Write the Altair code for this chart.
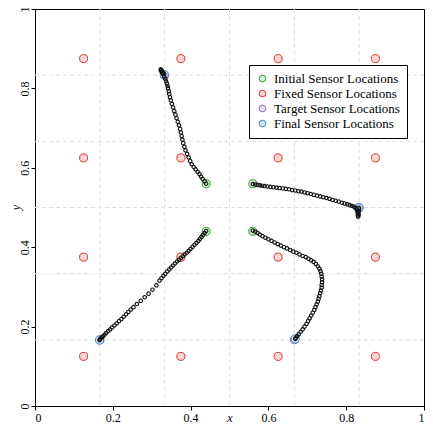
import altair as alt
import pandas as pd

# ---------------- data ----------------
grid_vals = [1/6, 2/6, 3/6, 4/6, 5/6]
tick_vals = [0, 0.2, 0.4, 0.6, 0.8, 1]

fixed_coords = [0.125, 0.375, 0.625, 0.875]

initial_x = [0.44, 0.56, 0.56, 0.44]
initial_y = [0.56, 0.56, 0.44, 0.44]

target_x = [0.333, 0.833, 0.667, 0.167]
target_y = [0.833, 0.500, 0.167, 0.167]

final_x = [0.332, 0.833, 0.669, 0.166]
final_y = [0.835, 0.499, 0.169, 0.166]

kinds = ["Initial Sensor Locations", "Fixed Sensor Locations",
         "Target Sensor Locations", "Final Sensor Locations"]
stroke_colors = ["#2ca02c", "#e0312b", "#8c6bc0", "#3f86d0"]
fill_colors = ["#d9efd9", "#f9d7d5", "#e6ddf3", "#d6e6f7"]

# trajectory 1: (0.44,0.56) -> (0.333,0.833)
traj1_x = [0.440, 0.436, 0.431, 0.427, 0.423, 0.418, 0.413, 0.408, 0.403, 0.399,
           0.395, 0.391, 0.387, 0.384, 0.381, 0.379, 0.377, 0.375, 0.373, 0.370,
           0.367, 0.364, 0.361, 0.358, 0.355, 0.352, 0.349, 0.347, 0.345, 0.344,
           0.342, 0.341, 0.339, 0.337, 0.335, 0.332, 0.329, 0.326, 0.324, 0.323,
           0.325, 0.327, 0.330, 0.332]
traj1_y = [0.560, 0.566, 0.572, 0.578, 0.584, 0.590, 0.596, 0.602, 0.609, 0.617,
           0.626, 0.635, 0.644, 0.653, 0.662, 0.671, 0.680, 0.689, 0.698, 0.707,
           0.716, 0.725, 0.734, 0.743, 0.752, 0.761, 0.770, 0.778, 0.786, 0.793,
           0.800, 0.806, 0.812, 0.818, 0.824, 0.830, 0.836, 0.841, 0.845, 0.848,
           0.846, 0.843, 0.839, 0.836]

# trajectory 2: (0.56,0.56) -> (0.833,0.5)
traj2_x = [0.560, 0.566, 0.572, 0.578, 0.584, 0.590, 0.597, 0.605, 0.613, 0.621,
           0.629, 0.637, 0.645, 0.653, 0.661, 0.669, 0.677, 0.685, 0.693, 0.701,
           0.709, 0.717, 0.725, 0.733, 0.741, 0.749, 0.757, 0.765, 0.773, 0.781,
           0.789, 0.796, 0.803, 0.809, 0.815, 0.820, 0.824, 0.827, 0.829, 0.830,
           0.830, 0.831, 0.832, 0.832, 0.833, 0.833]
traj2_y = [0.559, 0.558, 0.557, 0.556, 0.555, 0.554, 0.553, 0.552, 0.551, 0.550,
           0.549, 0.548, 0.547, 0.546, 0.544, 0.543, 0.541, 0.540, 0.538, 0.536,
           0.534, 0.532, 0.530, 0.528, 0.526, 0.524, 0.522, 0.519, 0.517, 0.515,
           0.512, 0.510, 0.508, 0.506, 0.504, 0.502, 0.499, 0.495, 0.490, 0.485,
           0.480, 0.477, 0.482, 0.489, 0.495, 0.499]

# trajectory 3: (0.56,0.44) -> (0.667,0.167)
traj3_x = [0.560, 0.566, 0.572, 0.578, 0.585, 0.592, 0.600, 0.608, 0.616, 0.624,
           0.632, 0.640, 0.648, 0.656, 0.664, 0.672, 0.680, 0.688, 0.696, 0.703,
           0.710, 0.716, 0.722, 0.727, 0.731, 0.734, 0.736, 0.737, 0.738, 0.738,
           0.737, 0.737, 0.735, 0.733, 0.731, 0.729, 0.727, 0.724, 0.721, 0.718,
           0.714, 0.710, 0.706, 0.702, 0.698, 0.693, 0.688, 0.683, 0.678, 0.674,
           0.671, 0.669]
traj3_y = [0.442, 0.439, 0.436, 0.432, 0.428, 0.424, 0.420, 0.416, 0.412, 0.408,
           0.404, 0.400, 0.397, 0.393, 0.389, 0.386, 0.382, 0.378, 0.375, 0.371,
           0.367, 0.363, 0.358, 0.352, 0.346, 0.340, 0.333, 0.326, 0.319, 0.312,
           0.305, 0.298, 0.291, 0.284, 0.277, 0.270, 0.263, 0.256, 0.249, 0.242,
           0.235, 0.228, 0.221, 0.214, 0.207, 0.200, 0.193, 0.187, 0.181, 0.176,
           0.172, 0.169]

# trajectory 4: (0.44,0.44) -> (0.167,0.167)
traj4_x = [0.440, 0.436, 0.432, 0.428, 0.424, 0.420, 0.415, 0.410, 0.405, 0.400,
           0.395, 0.390, 0.385, 0.380, 0.375, 0.370, 0.365, 0.360, 0.355, 0.350,
           0.345, 0.340, 0.335, 0.330, 0.325, 0.320, 0.312, 0.302, 0.292, 0.282,
           0.272, 0.262, 0.253, 0.246, 0.240, 0.234, 0.228, 0.222, 0.216, 0.210,
           0.204, 0.198, 0.193, 0.188, 0.183, 0.179, 0.175, 0.172, 0.169, 0.167,
           0.166]
traj4_y = [0.441, 0.436, 0.431, 0.426, 0.421, 0.416, 0.411, 0.406, 0.401, 0.396,
           0.391, 0.386, 0.382, 0.377, 0.373, 0.368, 0.364, 0.359, 0.354, 0.349,
           0.344, 0.339, 0.333, 0.328, 0.322, 0.316, 0.304, 0.293, 0.283, 0.274,
           0.265, 0.257, 0.249, 0.243, 0.237, 0.231, 0.225, 0.219, 0.214, 0.208,
           0.203, 0.198, 0.193, 0.189, 0.184, 0.180, 0.176, 0.173, 0.170, 0.168,
           0.166]

# ---------------- tables ----------------
rows = []
for yy in fixed_coords:
    for xx in fixed_coords:
        rows.append({"x": xx, "y": yy, "kind": kinds[1], "o": 0})
for xx, yy in zip(initial_x, initial_y):
    rows.append({"x": xx, "y": yy, "kind": kinds[0], "o": 1})
for xx, yy in zip(target_x, target_y):
    rows.append({"x": xx, "y": yy, "kind": kinds[2], "o": 2})
for xx, yy in zip(final_x, final_y):
    rows.append({"x": xx, "y": yy, "kind": kinds[3], "o": 3})
markers = pd.DataFrame(rows)

traj_rows = []
for tid, (tx, ty) in enumerate([(traj1_x, traj1_y), (traj2_x, traj2_y),
                                (traj3_x, traj3_y), (traj4_x, traj4_y)]):
    for xx, yy in zip(tx, ty):
        traj_rows.append({"x": xx, "y": yy, "t": tid})
traj = pd.DataFrame(traj_rows)

vgrid_df = pd.DataFrame({"x": grid_vals})
hgrid_df = pd.DataFrame({"y": grid_vals})

FONT = "Liberation Serif, Times New Roman, serif"

xscale = alt.Scale(domain=[0, 1], nice=False, zero=False)
yscale = alt.Scale(domain=[0, 1], nice=False, zero=False)

xaxis = alt.Axis(values=tick_vals, title="x", format="~g", labelAngle=0,
                 titleY=15, titleBaseline="alphabetic")
yaxis = alt.Axis(values=tick_vals, title="y", format="~g", labelAngle=270,
                 labelAlign="center", labelBaseline="bottom", labelPadding=0,
                 titleX=-20, titleY=198, titleAngle=270, titleBaseline="middle",
                 titleAlign="center")

vgrid = alt.Chart(vgrid_df).mark_rule(color="#e0e0e0", strokeWidth=1, strokeDash=[4, 3]).encode(
    x=alt.X("x:Q", scale=xscale, axis=xaxis))
hgrid = alt.Chart(hgrid_df).mark_rule(color="#e0e0e0", strokeWidth=1, strokeDash=[4, 3]).encode(
    y=alt.Y("y:Q", scale=yscale, axis=yaxis))

mk = alt.Chart(markers).mark_point(filled=True, opacity=1, strokeWidth=1, size=65, shape="circle").encode(
    x=alt.X("x:Q", scale=xscale, axis=xaxis),
    y=alt.Y("y:Q", scale=yscale, axis=yaxis),
    stroke=alt.Stroke("kind:N", scale=alt.Scale(domain=kinds, range=stroke_colors),
                      legend=alt.Legend(title=None)),
    fill=alt.Fill("kind:N", scale=alt.Scale(domain=kinds, range=fill_colors),
                  legend=alt.Legend(title=None)),
    order=alt.Order("o:Q"),
)

tr = alt.Chart(traj).mark_point(filled=False, opacity=1, strokeWidth=1.1, size=12,
                                 shape="circle", color="#111111").encode(
    x=alt.X("x:Q", scale=xscale, axis=xaxis),
    y=alt.Y("y:Q", scale=yscale, axis=yaxis),
    detail="t:N",
)

chart = alt.layer(vgrid, hgrid, mk, tr).properties(
    width=389, height=397,
    autosize=alt.AutoSizeParams(type="none"),
    padding={"left": 27, "top": 1, "right": 1, "bottom": 19},
).configure_view(
    stroke="black", strokeWidth=1
).configure_axis(
    grid=False, domainColor="black", tickColor="black", tickSize=4,
    labelFont=FONT, labelFontSize=12, labelColor="black", labelPadding=2,
    titleFont=FONT, titleFontSize=12, titleFontStyle="italic", titleFontWeight="normal",
    titleColor="black", titlePadding=2,
).configure_legend(
    orient="none", legendX=214, legendY=56,
    strokeColor="black", fillColor="white", padding=7, cornerRadius=0,
    labelFont=FONT, labelFontSize=13, labelColor="black", labelOffset=5,
    symbolSize=45, symbolStrokeWidth=1, rowPadding=1, labelLimit=0,
)

chart.save("out.html", embed_options={"renderer": "svg", "actions": False})
